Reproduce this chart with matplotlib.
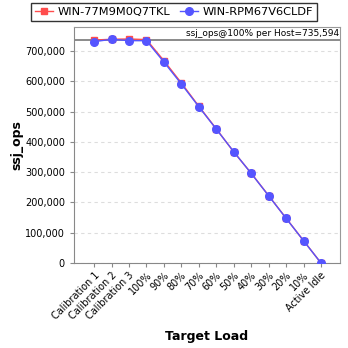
import matplotlib
matplotlib.use("Agg")
import matplotlib.pyplot as plt
from matplotlib.ticker import FuncFormatter

categories = ["Calibration 1", "Calibration 2", "Calibration 3", "100%", "90%", "80%",
              "70%", "60%", "50%", "40%", "30%", "20%", "10%", "Active Idle"]
host_a = [736000, 738500, 739500, 737500, 668000, 594500, 517500, 443000, 367000,
          296500, 222500, 148000, 74000, 0]
host_b = [730500, 738500, 734000, 733700, 663500, 591000, 516000, 442000, 367500,
          296000, 222000, 147500, 73600, 0]
name_a = "WIN-77M9M0Q7TKL"
name_b = "WIN-RPM67V6CLDF"
ref_value = 735594
y_ticks = [0, 100000, 200000, 300000, 400000, 500000, 600000, 700000]
y_max = 779000

fig = plt.figure(figsize=(3.48, 3.48), dpi=100)
ax = fig.add_axes([0.2126, 0.2443, 0.7644, 0.6781])

x = list(range(len(categories)))
la, = ax.plot(x, host_a, color="#ff4d4d", marker="s", markersize=5, linewidth=1.0,
              label=name_a, zorder=3)
lb, = ax.plot(x, host_b, color="#5555ff", marker="o", markersize=5.5, linewidth=1.0,
              label=name_b, zorder=4)

ax.axhline(ref_value, color="#777777", linewidth=1.2, zorder=2)
ax.text(0.995, ref_value / y_max + 0.008, "ssj_ops@100% per Host=735,594",
        transform=ax.transAxes, ha="right", va="bottom", fontsize=6.5)

ax.set_xlim(-1.15, 14.09)
ax.set_ylim(0, y_max)
ax.set_yticks(y_ticks)
ax.yaxis.set_major_formatter(FuncFormatter(lambda v, p: f"{int(v):,}"))
ax.set_xticks(x)
ax.set_xticklabels(categories, rotation=45, ha="right", rotation_mode="anchor", fontsize=7)
ax.tick_params(axis="y", labelsize=7, length=3, color="#888888")
ax.tick_params(axis="x", length=3, color="#888888", pad=2)
ax.yaxis.grid(True, linestyle=(0, (3, 3)), color="#dddddd", linewidth=0.8)
ax.set_axisbelow(True)
for s in ax.spines.values():
    s.set_color("#999999")
ax.spines["left"].set_color("#888888")
ax.spines["bottom"].set_color("#888888")

ax.set_ylabel("ssj_ops", fontsize=9, fontweight="bold", labelpad=1)
ax.set_xlabel("Target Load", fontsize=9, fontweight="bold", labelpad=6)

leg = fig.legend(handles=[la, lb], loc="upper center", bbox_to_anchor=(0.5, 0.997), ncol=2,
                 fontsize=8.2, frameon=True, fancybox=False, edgecolor="black",
                 handlelength=1.6, handletextpad=0.4, columnspacing=0.8,
                 borderpad=0.35, borderaxespad=0.2)
leg.get_frame().set_linewidth(1.0)

fig.savefig("out.png", dpi=100)
